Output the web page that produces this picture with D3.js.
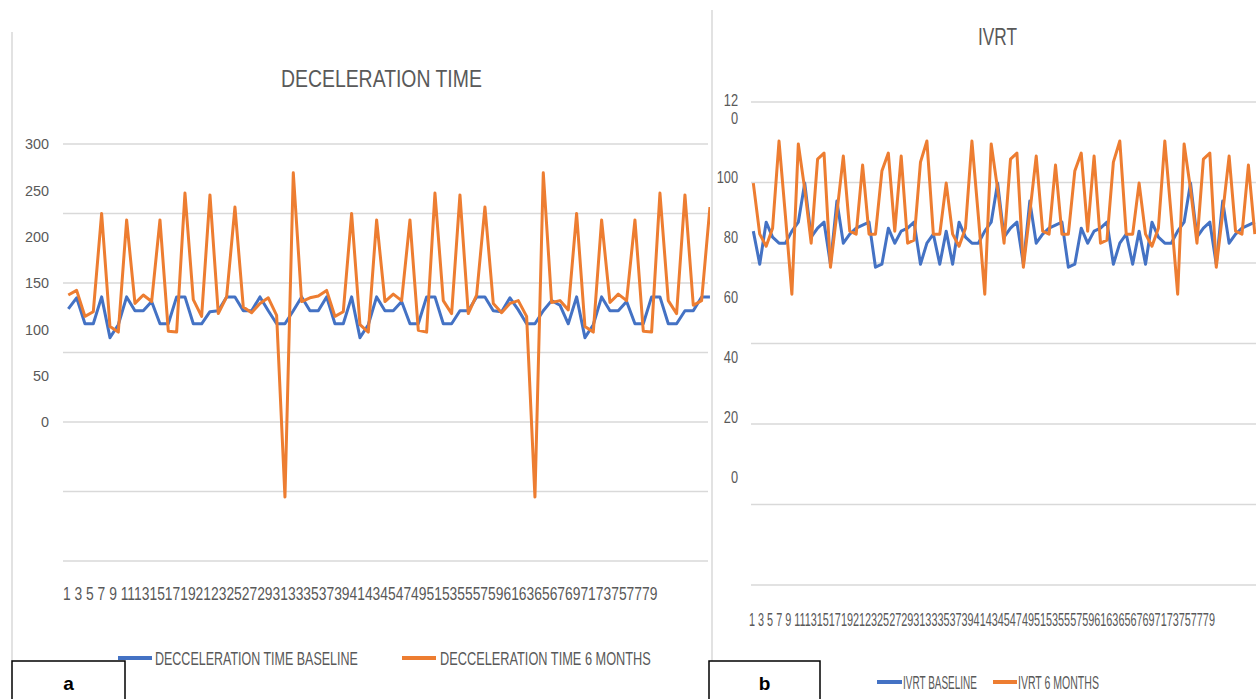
<!DOCTYPE html>
<html>
<head>
<meta charset="utf-8">
<script src="https://cdn.jsdelivr.net/npm/d3@7"></script>
<style>
  body { margin: 0; background: #fff; }
  svg { display: block; }
</style>
</head>
<body>
<svg id="chart" width="1256" height="699"></svg>
<script>
// ---- data ----
const decelBaseline = [
  122, 134, 106, 106, 135, 91, 105, 135, 120, 120, 130, 106, 106, 135, 135, 106,
  106, 119, 120, 135, 135, 120, 120, 135, 120, 106, 106, 120, 135, 120, 120, 135,
  106, 106, 135, 91, 105, 135, 120, 120, 130, 106, 106, 135, 135, 106, 106, 120,
  120, 135, 135, 120, 119, 134, 121, 106, 106, 120, 131, 126, 106,
  135, 91, 105, 135, 120, 120, 130, 106, 106, 135, 135, 106, 106, 120, 120, 135, 135
];
const decelSixMonths = [
  137, 142, 114, 119, 225, 103, 97, 218, 128, 137, 130, 218, 98, 97, 247, 132,
  114, 245, 117, 135, 232, 124, 118, 128, 134, 115, -81, 269, 130, 134, 136, 142,
  114, 119, 225, 105, 97, 218, 130, 138, 131, 218, 99, 97, 247, 131, 117, 245,
  117, 137, 232, 128, 118, 128, 131, 114, -81, 269, 129, 131, 121,
  225, 103, 97, 218, 129, 138, 131, 218, 98, 97, 247, 131, 117, 245, 126, 131, 232
];
const ivrtBaseline = [
  82, 71, 85, 80, 78, 78, 82, 85, 98, 80, 83, 85, 71, 92, 78, 81, 83, 84, 85, 70,
  71, 83, 78, 82, 83, 85, 71, 78, 81, 71,
  82, 71, 85, 80, 78, 78, 82, 85, 98, 80, 83, 85, 71, 92, 78, 81, 83, 84, 85, 70,
  71, 83, 78, 82, 83, 85, 71, 78, 81, 71,
  82, 71, 85, 80, 78, 78, 82, 85, 98, 80, 83, 85, 71, 92, 78, 81, 83, 84, 85
];
const ivrtSixMonths = [
  98, 81, 77, 83, 112, 87, 61, 111, 96, 78, 106, 108, 70, 88, 107, 82, 81, 104, 81, 81,
  102, 108, 82, 107, 78, 79, 105, 112, 81, 81,
  98, 81, 77, 83, 112, 87, 61, 111, 96, 78, 106, 108, 70, 88, 107, 82, 81, 104, 81, 81,
  102, 108, 82, 107, 78, 79, 105, 112, 81, 81,
  98, 81, 77, 83, 112, 87, 61, 111, 96, 78, 106, 108, 70, 88, 107, 82, 81, 104, 81
];
const xTickLabels = [1, 3, 5, 7, 9, 11, 13, 15, 17, 19, 21, 23, 25, 27, 29, 31, 33, 35, 37, 39,
  41, 43, 45, 47, 49, 51, 53, 55, 57, 59, 61, 63, 65, 67, 69, 71, 73, 75, 77, 79];
const decelYTicks = [0, 50, 100, 150, 200, 250, 300];
const decelGrid = [-150, -75, 0, 75, 150, 225, 300];
const ivrtYTicks = [0, 20, 40, 60, 80, 100, 120];
const ivrtGrid = [-35.8, -9, 17.8, 44.6, 71.4, 98.2, 125];

const BLUE = '#4472C4', ORANGE = '#ED7D31', GRID = '#d9d9d9', TEXT = '#595959';
const SANS = '"Liberation Sans", Arial, sans-serif';

const svg = d3.select('#chart');
svg.append('rect').attr('width', 1256).attr('height', 699).attr('fill', '#fff');

// squeeze a text horizontally so it spans x0..x1 (the source uses a condensed face)
function fitText(parent, str, x0, x1, y, size) {
  const t = parent.append('text')
    .attr('x', 0).attr('y', 0)
    .attr('fill', TEXT).style('font-family', SANS).style('font-size', size + 'px')
    .text(str);
  const len = t.node().getComputedTextLength();
  t.attr('transform', `translate(${x0},${y}) scale(${(x1 - x0) / len},1)`);
  return t;
}

// thin panel frame lines
svg.append('line').attr('x1', 12).attr('x2', 12).attr('y1', 32).attr('y2', 661)
  .attr('stroke', '#d9d9d9').attr('stroke-width', 1.5);
svg.append('line').attr('x1', 712).attr('x2', 712).attr('y1', 10).attr('y2', 661)
  .attr('stroke', '#d9d9d9').attr('stroke-width', 1.5);

function drawPanel(p) {
  const g = svg.append('g');
  const y = d3.scaleLinear().domain(p.yDomain).range(p.yRange);
  const x = d3.scaleLinear().domain([1, 80]).range(p.xRange);

  g.selectAll('line.grid').data(p.grid).join('line')
    .attr('class', 'grid')
    .attr('x1', p.gridX[0]).attr('x2', p.gridX[1])
    .attr('y1', d => y(d)).attr('y2', d => y(d))
    .attr('stroke', GRID).attr('stroke-width', 1.5);

  const ax = g.append('g')
    .attr('transform', `translate(${p.labelX},0)`)
    .call(d3.axisLeft(y).tickValues(p.yTicks).tickSize(0).tickPadding(0));
  ax.select('.domain').remove();
  ax.selectAll('text')
    .attr('fill', TEXT)
    .attr('transform', `scale(${p.tickSqueeze},1)`)
    .style('font-family', SANS)
    .style('font-size', p.tickSize + 'px');
  if (p.wrapTop) {
    ax.selectAll('text').filter(d => d === 120).each(function () {
      const t = d3.select(this).text('');
      t.append('tspan').attr('x', 0).attr('dy', '-0.7em').text('12');
      t.append('tspan').attr('x', 0).attr('dy', '1.12em').text('0');
    });
  }

  const clipId = 'clip' + p.key;
  svg.append('clipPath').attr('id', clipId).append('rect')
    .attr('x', p.gridX[0]).attr('y', 0).attr('width', p.clipRight - p.gridX[0]).attr('height', 699);

  const line = d3.line().x((d, i) => x(i + 1)).y(d => y(d));
  p.series.forEach(s => {
    g.append('path').datum(s.values)
      .attr('clip-path', `url(#${clipId})`)
      .attr('fill', 'none').attr('stroke', s.color)
      .attr('stroke-width', 3).attr('stroke-linejoin', 'round')
      .attr('d', line);
  });

  // crowded category labels
  const labelText = xTickLabels.map(t => t < 10 ? t + ' ' : String(t)).join('');
  fitText(g, labelText, p.xLabel[0], p.xLabel[1], p.xLabelY, 19);

  fitText(g, p.title.text, p.title.x, p.title.x + p.title.w, p.title.y, p.title.size);

  p.series.forEach(s => {
    g.append('line')
      .attr('x1', s.leg.x0).attr('x2', s.leg.x1).attr('y1', s.leg.y).attr('y2', s.leg.y)
      .attr('stroke', s.color).attr('stroke-width', 4);
    fitText(g, s.name, s.leg.tx, s.leg.tx + s.leg.tw, s.leg.y + 6.5, 18);
  });

  svg.append('rect')
    .attr('x', p.box.x).attr('y', 661).attr('width', p.box.w).attr('height', 45)
    .attr('fill', '#fff').attr('stroke', '#000').attr('stroke-width', 1.5);
  svg.append('text')
    .attr('x', p.box.x + p.box.w / 2).attr('y', 690).attr('text-anchor', 'middle')
    .style('font-family', SANS).style('font-weight', 'bold')
    .style('font-size', '19px').attr('fill', '#000')
    .text(p.box.label);
}

drawPanel({
  key: 'a',
  yDomain: [-150, 300], yRange: [561, 144],
  xRange: [68.3, 68.3 + 79 * 8.333],
  grid: decelGrid, gridX: [63, 708], clipRight: 710,
  yTicks: decelYTicks, labelX: 49, tickSize: 15, tickSqueeze: 0.96,
  xLabel: [63, 658], xLabelY: 600,
  title: { text: 'DECELERATION TIME', x: 281, y: 87, w: 201, size: 23 },
  series: [
    { name: 'DECCELERATION TIME BASELINE', values: decelBaseline, color: BLUE,
      leg: { x0: 118, x1: 152, y: 658, tx: 155, tw: 203 } },
    { name: 'DECCELERATION TIME 6 MONTHS', values: decelSixMonths, color: ORANGE,
      leg: { x0: 402, x1: 436, y: 658, tx: 440, tw: 211 } }
  ],
  box: { x: 12, w: 113, label: 'a' }
});

drawPanel({
  key: 'b',
  yDomain: [-35.8, 125], yRange: [585, 102],
  xRange: [753.3, 753.3 + 79 * 6.43],
  grid: ivrtGrid, gridX: [751, 1256], clipRight: 1256,
  yTicks: ivrtYTicks, labelX: 738, wrapTop: true, tickSize: 16, tickSqueeze: 0.8,
  xLabel: [749, 1215], xLabelY: 626,
  title: { text: 'IVRT', x: 978, y: 45, w: 39, size: 24 },
  series: [
    { name: 'IVRT BASELINE', values: ivrtBaseline, color: BLUE,
      leg: { x0: 877, x1: 902, y: 682, tx: 903, tw: 74 } },
    { name: 'IVRT 6 MONTHS', values: ivrtSixMonths, color: ORANGE,
      leg: { x0: 993, x1: 1017, y: 682, tx: 1018, tw: 81 } }
  ],
  box: { x: 709, w: 111, label: 'b' }
});
</script>
</body>
</html>
